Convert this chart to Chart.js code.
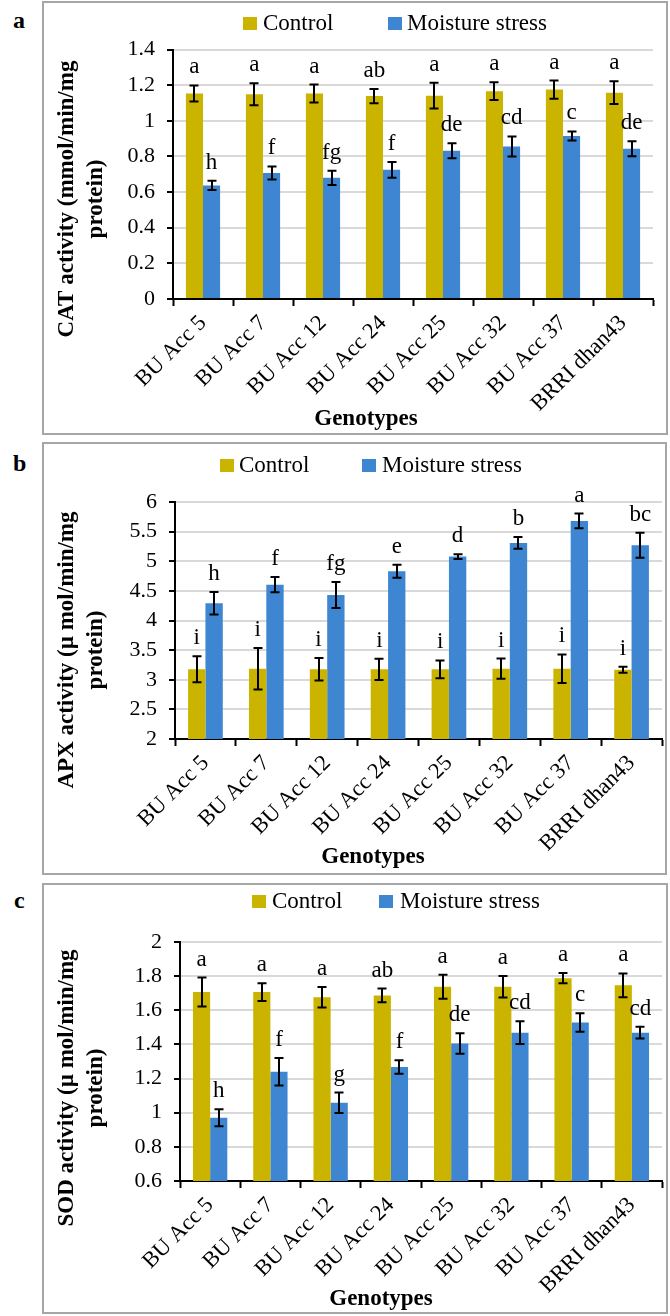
<!doctype html>
<html>
<head>
<title>Antioxidant enzymes</title>
<script src="https://cdn.jsdelivr.net/npm/chart.js@4/dist/chart.umd.min.js"></script>
<style>
	body { margin: 0; background: #fff; width: 670px; height: 1316px; position: relative; overflow: hidden; }
	.box { position: absolute; border: 2px solid #a6a6a6; box-sizing: border-box; }
	.tag { position: absolute; font: bold 24px 'Liberation Serif', serif; line-height: 24px; color: #000; }
	canvas { position: absolute; }
</style>
</head>
<body>
<div class="box" style="left:42px;top:1px;width:626px;height:434px"></div>
<div class="box" style="left:42px;top:442px;width:625px;height:433px"></div>
<div class="box" style="left:42px;top:883px;width:626px;height:431px"></div>
<div class="tag" style="left:13px;top:8px">a</div>
<div class="tag" style="left:13px;top:451px">b</div>
<div class="tag" style="left:14px;top:888px">c</div>
<canvas id="catChart" style="left:44px;top:3px" width="622" height="430"></canvas>
<canvas id="apxChart" style="left:44px;top:444px" width="621" height="429"></canvas>
<canvas id="sodChart" style="left:44px;top:885px" width="622" height="427"></canvas>
<script>
	const genotypes = ['BU Acc 5', 'BU Acc 7', 'BU Acc 12', 'BU Acc 24', 'BU Acc 25', 'BU Acc 32', 'BU Acc 37', 'BRRI dhan43'];
	const seriesNames = ['Control', 'Moisture stress'];

	// CAT (a)
	const catControl = [1.153, 1.149, 1.153, 1.139, 1.141, 1.166, 1.175, 1.158];
	const catControlErr = [0.045, 0.062, 0.05, 0.04, 0.072, 0.05, 0.051, 0.064];
	const catStress = [0.637, 0.707, 0.68, 0.725, 0.832, 0.856, 0.915, 0.843];
	const catStressErr = [0.026, 0.037, 0.04, 0.044, 0.042, 0.056, 0.025, 0.042];
	const catControlLetters = ['a', 'a', 'a', 'ab', 'a', 'a', 'a', 'a'];
	const catStressLetters = ['h', 'f', 'fg', 'f', 'de', 'cd', 'c', 'de'];
	const catAxis = [0, 1.4, 0.2];

	// APX (b)
	const apxControl = [3.176, 3.187, 3.176, 3.176, 3.176, 3.187, 3.187, 3.17];
	const apxControlErr = [0.22, 0.35, 0.19, 0.18, 0.15, 0.17, 0.24, 0.05];
	const apxStress = [4.29, 4.605, 4.43, 4.83, 5.08, 5.31, 5.68, 5.27];
	const apxStressErr = [0.19, 0.13, 0.22, 0.11, 0.04, 0.1, 0.125, 0.21];
	const apxControlLetters = ['i', 'i', 'i', 'i', 'i', 'i', 'i', 'i'];
	const apxStressLetters = ['h', 'f', 'fg', 'e', 'd', 'b', 'a', 'bc'];
	const apxAxis = [2, 6, 0.5];

	// SOD (c)
	const sodControl = [1.707, 1.707, 1.677, 1.687, 1.738, 1.738, 1.788, 1.746];
	const sodControlErr = [0.085, 0.052, 0.06, 0.04, 0.07, 0.063, 0.03, 0.07];
	const sodStress = [0.97, 1.24, 1.058, 1.268, 1.406, 1.469, 1.528, 1.469];
	const sodStressErr = [0.05, 0.08, 0.06, 0.04, 0.06, 0.067, 0.054, 0.035];
	const sodControlLetters = ['a', 'a', 'a', 'ab', 'a', 'a', 'a', 'a'];
	const sodStressLetters = ['h', 'f', 'g', 'f', 'de', 'cd', 'c', 'cd'];
	const sodAxis = [0.6, 2, 0.2];

	const GOLD = '#cab400';
	const BLUE = '#3e86d1';
	const SERIF = "'Liberation Serif', serif";

	// error bars, letters, legend and axis titles
	const panelDecor = {
		id: 'panelDecor',
		afterDatasetsDraw(chart, args, opts) {
			const ctx = chart.ctx;
			const yScale = chart.scales.y;
			ctx.save();
			chart.data.datasets.forEach((ds, di) => {
				chart.getDatasetMeta(di).data.forEach((bar, i) => {
					const v = ds.data[i];
					const e = opts.errors[di][i];
					const yt = yScale.getPixelForValue(v + e);
					const yb = yScale.getPixelForValue(v - e);
					const x = Math.round(bar.x);
					ctx.strokeStyle = '#000';
					ctx.lineWidth = 2;
					ctx.beginPath();
					ctx.moveTo(x, yt); ctx.lineTo(x, yb);
					ctx.moveTo(x - 4.5, yt); ctx.lineTo(x + 4.5, yt);
					ctx.moveTo(x - 4.5, yb); ctx.lineTo(x + 4.5, yb);
					ctx.stroke();
					ctx.fillStyle = '#000';
					ctx.font = '23px ' + SERIF;
					ctx.textAlign = 'center';
					ctx.textBaseline = 'alphabetic';
					ctx.fillText(opts.letters[di][i], bar.x, yt - 12);
				});
			});

			// legend
			ctx.font = '23px ' + SERIF;
			ctx.textAlign = 'left';
			ctx.textBaseline = 'alphabetic';
			opts.legend.forEach((item, i) => {
				ctx.fillStyle = chart.data.datasets[i].backgroundColor;
				ctx.fillRect(item[0], opts.legendY - 13, 14, 13);
				ctx.fillStyle = '#000';
				ctx.fillText(chart.data.datasets[i].label, item[1], opts.legendY);
			});

			// x title
			ctx.font = 'bold 23px ' + SERIF;
			ctx.textAlign = 'center';
			ctx.fillText('Genotypes', opts.xTitle[0], opts.xTitle[1]);

			// y title, two lines
			ctx.translate(23, opts.yTitleMid);
			ctx.rotate(-Math.PI / 2);
			ctx.textBaseline = 'middle';
			ctx.fillText(opts.yTitle[0], 0, 0);
			ctx.fillText(opts.yTitle[1], 0, 29);
			ctx.restore();
		}
	};

	function makeChart(id, control, stress, axis, extra) {
		return new Chart(document.getElementById(id), {
			type: 'bar',
			data: {
				labels: genotypes,
				datasets: [{
					label: seriesNames[0],
					data: control,
					backgroundColor: GOLD,
					categoryPercentage: 0.57,
					barPercentage: 1
				}, {
					label: seriesNames[1],
					data: stress,
					backgroundColor: BLUE,
					categoryPercentage: 0.57,
					barPercentage: 1
				}]
			},
			options: {
				responsive: false,
				animation: false,
				layout: { padding: { top: extra.top, right: extra.right, left: 0, bottom: 0 } },
				plugins: {
					legend: { display: false },
					tooltip: { enabled: false },
					panelDecor: extra.decor
				},
				scales: {
					x: {
						grid: { drawOnChartArea: false, offset: true, tickLength: 7, tickColor: '#000', tickWidth: 2 },
						border: { color: '#000', width: 2 },
						ticks: {
							minRotation: 45,
							maxRotation: 45,
							padding: 4,
							color: '#000',
							font: { family: SERIF, size: 22.5 }
						},
						afterFit(scale) { scale.height = extra.xh; }
					},
					y: {
						min: axis[0],
						max: axis[1],
						ticks: {
							stepSize: axis[2],
							padding: 12,
							color: '#000',
							font: { family: SERIF, size: 22 },
							callback: (value) => String(Number(value.toFixed(2)))
						},
						grid: { color: '#d9d9d9', lineWidth: 2, tickLength: 6, tickColor: '#000', tickWidth: 2 },
						border: { color: '#000', width: 2 },
						afterFit(scale) { scale.width = extra.yw; }
					}
				}
			},
			plugins: [panelDecor]
		});
	}

	window.onload = function() {
		makeChart('catChart', catControl, catStress, catAxis, {
			top: 46.5, right: 13, xh: 134, yw: 129,
			decor: {
				errors: [catControlErr, catStressErr],
				letters: [catControlLetters, catStressLetters],
				legend: [[199, 219], [344, 363]],
				legendY: 27,
				xTitle: [322, 422],
				yTitleMid: 196,
				yTitle: ['CAT activity (mmol/min/mg', 'protein)']
			}
		});
		makeChart('apxChart', apxControl, apxStress, apxAxis, {
			top: 58, right: 3, xh: 134, yw: 131,
			decor: {
				errors: [apxControlErr, apxStressErr],
				letters: [apxControlLetters, apxStressLetters],
				legend: [[176, 195], [318, 338]],
				legendY: 28,
				xTitle: [329, 419],
				yTitleMid: 206,
				yTitle: ['APX activity (µ mol/min/mg', 'protein)']
			}
		});
		makeChart('sodChart', sodControl, sodStress, sodAxis, {
			top: 57, right: 4, xh: 131, yw: 136,
			decor: {
				errors: [sodControlErr, sodStressErr],
				letters: [sodControlLetters, sodStressLetters],
				legend: [[208, 228], [335, 356]],
				legendY: 23,
				xTitle: [337, 420],
				yTitleMid: 203,
				yTitle: ['SOD activity (µ mol/min/mg', 'protein)']
			}
		});
	};
</script>
</body>
</html>
